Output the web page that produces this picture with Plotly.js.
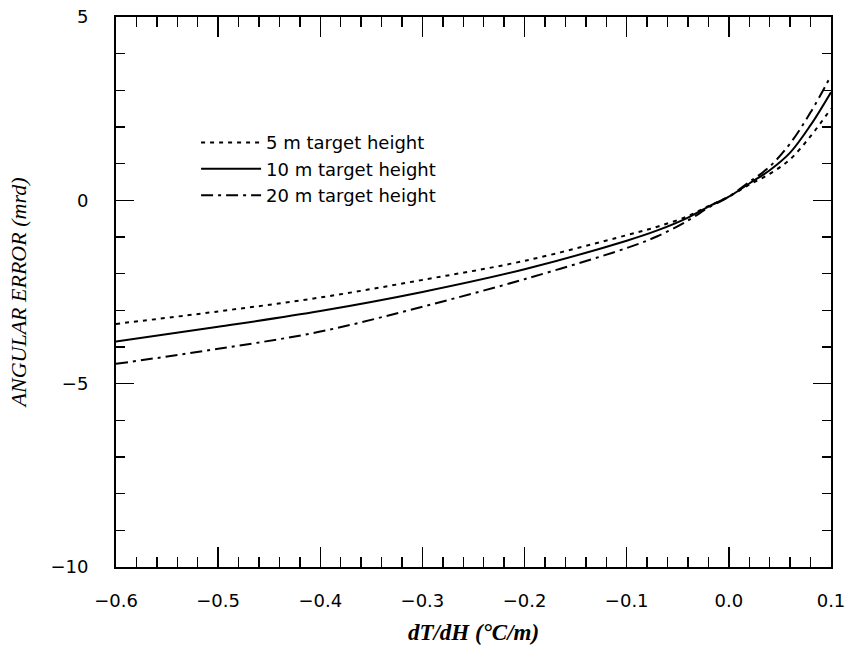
<!DOCTYPE html>
<html>
<head>
<meta charset="utf-8">
<script src="https://cdn.plot.ly/plotly-3.0.1.min.js"></script>
<style>html,body{margin:0;padding:0;background:#fff;}#chart{width:857px;height:659px;}</style>
</head>
<body>
<div id="chart"></div>
<script>
// dT/dH values (°C/m)
const gradient = [-0.6, -0.5, -0.4, -0.3, -0.2, -0.1, -0.07, -0.04, -0.02, 0.0, 0.02, 0.04, 0.06, 0.08, 0.1];
// Angular error (mrd)
const err5m  = [-3.37, -3.03, -2.65, -2.17, -1.65, -0.95, -0.72, -0.43, -0.16, 0.10, 0.43, 0.72, 1.12, 1.75, 2.50];
const err10m = [-3.85, -3.45, -3.02, -2.50, -1.88, -1.10, -0.82, -0.47, -0.17, 0.10, 0.46, 0.82, 1.30, 2.05, 2.95];
const err20m = [-4.46, -4.05, -3.58, -2.90, -2.15, -1.30, -0.98, -0.55, -0.20, 0.10, 0.50, 0.92, 1.55, 2.40, 3.40];
const seriesNames = ['5 m target height', '10 m target height', '20 m target height'];
const xTickVals = [-0.6, -0.5, -0.4, -0.3, -0.2, -0.1, 0.0, 0.1];
const xTickText = ['\u22120.6', '\u22120.5', '\u22120.4', '\u22120.3', '\u22120.2', '\u22120.1', '0.0', '0.1'];
const yTickVals = [-10, -5, 0, 5];
const yTickText = ['\u221210', '\u22125', '0', '5'];

const traces = [
  {x: gradient, y: err5m, name: seriesNames[0], mode: 'lines', line: {color: '#000', width: 2, dash: '4px,5px', shape: 'spline'}},
  {x: gradient, y: err10m, name: seriesNames[1], mode: 'lines', line: {color: '#000', width: 2, dash: 'solid', shape: 'spline'}},
  {x: gradient, y: err20m, name: seriesNames[2], mode: 'lines', line: {color: '#000', width: 2, dash: '12px,5px,3px,5px', shape: 'spline'}}
];

const layout = {
  width: 857, height: 659,
  margin: {l: 116, r: 26, t: 17, b: 92},
  paper_bgcolor: '#fff', plot_bgcolor: '#fff',
  showlegend: true,
  legend: {x: 0.112, y: 0.805, xanchor: 'left', yanchor: 'top', bgcolor: 'rgba(0,0,0,0)',
           itemwidth: 60,
           font: {family: 'DejaVu Sans, sans-serif', size: 18, color: '#000'}, tracegroupgap: 0},
  xaxis: {
    range: [-0.6, 0.1], showgrid: false, zeroline: false,
    showline: true, linecolor: '#000', linewidth: 2, mirror: 'allticks',
    ticks: 'inside', ticklen: 20, tickwidth: 1.5, tickcolor: '#000',
    tickvals: xTickVals, ticktext: xTickText, ticklabelstandoff: 16,
    tickfont: {family: 'DejaVu Sans, sans-serif', size: 18, color: '#000'},
    minor: {dtick: 0.02, ticks: 'inside', ticklen: 10, tickwidth: 1.5, tickcolor: '#000', showgrid: false},
    title: {text: '<b><i>dT/dH (°C/m)</i></b>', standoff: 14,
            font: {family: 'Liberation Serif, serif', size: 23, color: '#000'}}
  },
  yaxis: {
    range: [-10, 5], showgrid: false, zeroline: false,
    showline: true, linecolor: '#000', linewidth: 2, mirror: 'allticks',
    ticks: 'inside', ticklen: 18, tickwidth: 1.5, tickcolor: '#000',
    tickvals: yTickVals, ticktext: yTickText, ticklabelstandoff: 22,
    tickfont: {family: 'DejaVu Sans, sans-serif', size: 18, color: '#000'},
    minor: {dtick: 1, ticks: 'inside', ticklen: 9, tickwidth: 1.5, tickcolor: '#000', showgrid: false},
    title: {text: '<i>ANGULAR ERROR (mrd)</i>', standoff: 18,
            font: {family: 'Liberation Serif, serif', size: 22, color: '#000'}}
  }
};

Plotly.newPlot('chart', traces, layout, {displayModeBar: false, staticPlot: true});
</script>
</body>
</html>
